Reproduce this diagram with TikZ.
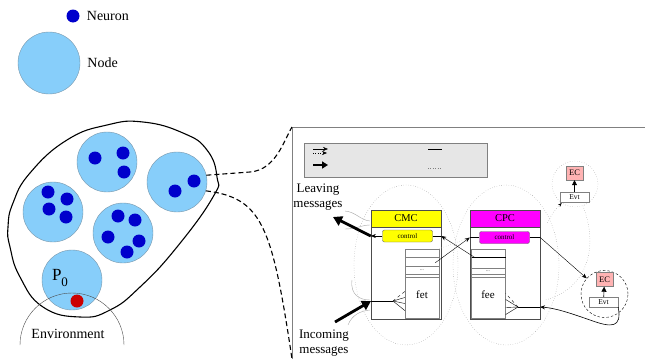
\documentclass[tikz,border=0pt]{standalone}
\usepackage{fontspec}
\setmainfont{Liberation Serif}
\usetikzlibrary{arrows.meta,positioning}
\definecolor{nodeblue}{RGB}{135,206,250}
\definecolor{nodeedge}{RGB}{120,150,170}
\definecolor{neuronblue}{RGB}{0,0,204}
\definecolor{envred}{RGB}{204,0,0}
\definecolor{ecpink}{RGB}{255,179,179}
\definecolor{legendgray}{RGB}{230,230,230}
\definecolor{cmcyellow}{RGB}{255,255,0}
\definecolor{cpcmagenta}{RGB}{255,0,255}
\begin{document}
\begin{tikzpicture}[x=1pt,y=-1pt,
	nodecirc/.style={circle,draw=nodeedge,fill=nodeblue,minimum size=60pt,inner sep=0pt},
	neuron/.style={circle,fill=neuronblue,minimum size=13pt,inner sep=0pt},
	lbl/.style={font=\fontsize{14}{16}\selectfont,inner sep=0pt},
	msg/.style={font=\fontsize{13}{15}\selectfont,inner sep=0pt,align=center},
	compbox/.style={draw=black!70,minimum width=70pt,minimum height=109pt,inner sep=0pt},
	headbox/.style={draw=black!70,minimum width=70pt,minimum height=17pt,inner sep=0pt,anchor=north,font=\fontsize{10.5}{12}\selectfont},
	ctlbox/.style={draw=black!60,rounded corners=2pt,minimum width=50pt,minimum height=12pt,inner sep=0pt,font=\fontsize{7}{8}\selectfont},
	stackbox/.style={draw=gray,minimum width=34pt,minimum height=69pt,inner sep=0pt},
	ecbox/.style={draw=gray,fill=ecpink,minimum width=17pt,minimum height=14pt,inner sep=0pt,font=\fontsize{8.5}{9}\selectfont},
	evtbox/.style={draw=gray,fill=white,minimum width=29pt,minimum height=10pt,inner sep=0pt,font=\fontsize{7.5}{8}\selectfont},
	bigarrow/.style={-{Triangle[length=9pt,width=10pt]},line width=2.8pt},
	>={Stealth[length=5pt,width=4pt]}]
	\useasboundingbox (0,0) rectangle (645,359);
	
	% legend
	\node[neuron] (legneuron) at (73,16) {};
	\node[lbl,right=7pt of legneuron] (legneurontxt) {Neuron};
	\node[nodecirc,minimum size=62pt] (legnode) at (49,63) {};
	\node[lbl,right=7pt of legnode] (legnodetxt) {Node};
	
	% the network
	\begin{scope}[every node/.style={nodecirc}]
		\node (n1) at (107,162) {};
		\node (n2) at (177,182) {};
		\node (n3) at (53,212) {};
		\node (n4) at (123,233) {};
		\node (p0) at (72,280) {};
	\end{scope}
	\begin{scope}[every node/.style={neuron}]
		\node (a1) at (95,158) {};
		\node (a2) at (123,153) {};
		\node (a3) at (124,172) {};
		\node (b1) at (194,181) {};
		\node (b2) at (175,191) {};
		\node (c1) at (48,192) {};
		\node (c2) at (67,199) {};
		\node (c3) at (49,209) {};
		\node (c4) at (66,217) {};
		\node (d1) at (118,216) {};
		\node (d2) at (135,220) {};
		\node (d3) at (108,237) {};
		\node (d4) at (139,241) {};
		\node (d5) at (127,252) {};
		\node[fill=envred] (e1) at (77,301) {};
	\end{scope}
	\node[font=\fontsize{17}{18}\selectfont,inner sep=0pt] (p0txt) at (60,278) {P{\fontsize{13}{13}\selectfont\raisebox{-6pt}{0}}};
	\draw[line width=1.1pt] plot[smooth cycle,tension=0.8] coordinates {(143,122) (183,133) (207,150) (217,177) (213,197) (177,247) (140,287) (110,310) (80,317) (43,307) (20,277) (10,247) (8,227) (13,203) (30,173) (67,140) (107,125)};
	\draw[black!70] (20,345) arc[start angle=180,end angle=360,radius=52];
	\node[lbl] (envtxt) at (68,334) {Environment};
	
	% zoom onto one node
	\coordinate (paneltl) at (292,127);
	\coordinate (panelbl) at (292,359);
	\draw[gray] (panelbl) -- (paneltl) -- (645,127);
	\draw[line width=1.1pt,dash pattern=on 5pt off 3pt] (n2.13) -- (250,172) .. controls (276,170) and (284,140) .. (paneltl);
	\draw[line width=1.1pt,dash pattern=on 5pt off 3pt] (n2.-17) .. controls (262,198) and (272,225) .. (panelbl);
	
	\node[draw=gray,fill=legendgray,minimum width=183pt,minimum height=34pt,inner sep=0pt] (legend) at (396,160) {};
	\draw[->] (313,149) -- (328,149);
	\draw[->,dotted] (313,153) -- (327,153);
	\draw[-{Triangle[length=6pt,width=7pt]},line width=2.2pt] (313,165) -- (328,165);
	\draw (428,149) -- (442,149);
	\draw[gray,dotted] (428,168) -- (442,168);
	
	\draw[gray,dotted] (406,265) ellipse[x radius=52,y radius=80];
	\draw[gray,dotted] (506,265) ellipse[x radius=53,y radius=80];
	
	% CMC
	\node[compbox] (cmc) at (406,264.5) {};
	\node[headbox,fill=cmcyellow] (cmchead) at (cmc.north) {CMC};
	\node[ctlbox,fill=cmcyellow] (cmcctl) at (407.5,236) {control};
	\node[stackbox] (fet) at (422,283.5) {};
	\node[font=\fontsize{11}{12}\selectfont] (fettxt) at (422,295) {fet};
	\draw[gray] (405,257) -- (439,257);
	\draw[gray] (405,266) -- (439,266);
	\draw[gray] (405,274) -- (439,274);
	\draw[gray] (405,277) -- (439,277);
	\node[font=\tiny] at (422,270) {...};
	
	% CPC
	\node[compbox] (cpc) at (505,264.5) {};
	\node[headbox,fill=cpcmagenta] (cpchead) at (cpc.north) {CPC};
	\node[ctlbox,fill=cpcmagenta] (cpcctl) at (504.5,237.5) {control};
	\node[stackbox] (fee) at (488.5,283.5) {};
	\node[font=\fontsize{11}{12}\selectfont] (feetxt) at (488,295) {fee};
	\draw (471.5,257) -- (505.5,257);
	\draw[gray] (471.5,268) -- (505.5,268);
	\draw[gray] (471.5,274) -- (505.5,274);
	\draw[gray] (471.5,277) -- (505.5,277);
	\node[font=\tiny] at (488,271) {...};
	
	% event controllers
	\node[circle,draw=gray,dotted,minimum size=46pt,inner sep=0pt] (ec1circ) at (575,184) {};
	\node[ecbox] (ec1) at (574.5,173) {EC};
	\node[evtbox] (evt1) at (574.5,197) {Evt};
	\node[circle,draw,dash pattern=on 2.5pt off 2pt,minimum size=47pt,inner sep=0pt] (ec2circ) at (604.5,294) {};
	\node[ecbox] (ec2) at (604.5,279.5) {EC};
	\node[evtbox] (evt2) at (603.5,302) {Evt};
	\draw[-{Triangle[length=5pt,width=5pt]},semithick] (evt1) -- (ec1);
	\draw[-{Triangle[length=5pt,width=5pt]},semithick] (evt2) -- (ec2);
	\draw[gray,dotted,{Stealth[black,length=4pt]}-] (ec1circ.235) .. controls (553,212) .. (547,224);
	\draw[gray,dotted] (ec1circ.290) .. controls (600,250) and (585,290) .. (545,300);
	
	% openings of the cell
	\draw[gray!70] (345,211) .. controls (356,212) and (360,220) .. (370,221);
	\draw[gray!70] (345,229) .. controls (356,229) and (362,225) .. (370,225);
	\draw[gray!70] (352,280) .. controls (350,295) and (360,300) .. (370,300);
	\draw[gray!70] (348,325) .. controls (352,315) and (360,311) .. (370,310);
	
	% messages
	\coordinate (cmcout) at (cmc.west |- cmcctl.west);
	\coordinate (leaveend) at (333,217);
	\coordinate (inbeg) at (335,322);
	\coordinate (cmcin) at (371,301);
	\coordinate (cmcfan) at (393,301);
	\coordinate (cpcin) at (540,307);
	\coordinate (cpcfan) at (518,307);
	\node[msg] (leaving) at (318,197) {Leaving\\messages};
	\node[msg] (incoming) at (324,343) {Incoming\\messages};
	
	\draw[->] (cmcctl.west) -- (cmcout);
	\draw[bigarrow] (cmcout) -- (leaveend);
	\draw[bigarrow] (inbeg) -- (cmcin);
	\draw (cmcin) -- (cmcfan);
	\draw[dashed] (cmcfan) -- ([yshift=-8pt]fet.west);
	\draw (cmcfan) -- ([yshift=-14pt]fet.west);
	\draw (cmcfan) -- ([yshift=-20pt]fet.west);
	\draw (cmcfan) -- ([yshift=-27pt]fet.west);
	
	\draw[->] ([xshift=-4pt,yshift=-14pt]fet.north east) -- (cpc.west |- cpcctl.west);
	\draw (cpc.west |- cpcctl.west) -- (cpcctl.west);
	\draw[->] ([xshift=4pt,yshift=-9pt]fee.north west) -- (cmc.east |- cmcctl.east);
	\draw (cmcctl.east) -- (cmc.east |- cmcctl.east);
	\draw[gray!60,dotted] (fet.north east) -- (cpc.west |- cpcctl.west);
	
	\draw (cpcctl.east) -- (cpc.east |- cpcctl.east);
	\draw[->] (cpc.east |- cpcctl.east) -- (ec2circ);
	\draw[->,semithick] (evt2.south east) .. controls (622,328) and (612,328) .. (590,320) .. controls (570,313) and (555,308) .. (cpcin);
	\draw (cpcin) -- (cpcfan);
	\draw[dashed] (cpcfan) -- ([yshift=-10pt]fee.east);
	\draw (cpcfan) -- ([yshift=-16pt]fee.east);
	\draw (cpcfan) -- ([yshift=-24pt]fee.east);
	\draw (cpcfan) -- ([yshift=-31pt]fee.east);
\end{tikzpicture}
\end{document}
